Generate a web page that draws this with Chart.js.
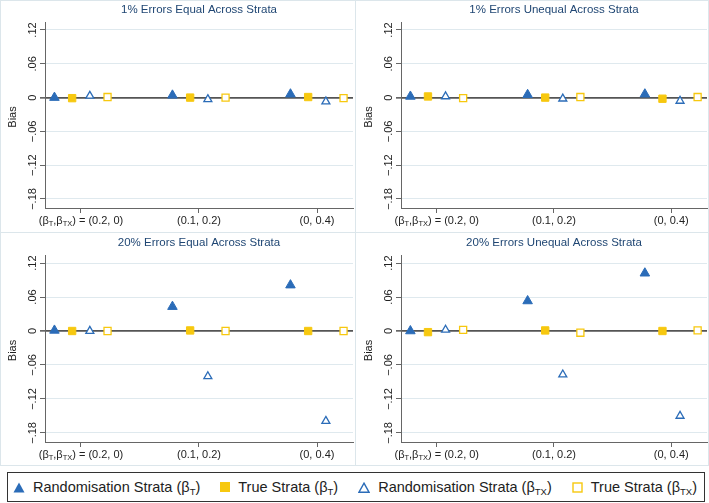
<!DOCTYPE html>
<html>
<head>
<meta charset="utf-8">
<script src="https://cdn.jsdelivr.net/npm/chart.js@4.4.1/dist/chart.umd.min.js"></script>
<style>
  body { margin: 0; background: #fff; font-family: "Liberation Sans", Arial, sans-serif; }
  #wrap { position: relative; width: 709px; height: 503px; overflow: hidden; background: #fff; }
  .frame { position: absolute; border: 1px solid #dce6eb; box-sizing: border-box; }
  canvas { position: absolute; }
  #legend {
    position: absolute; left: 7px; top: 472px; width: 698px; height: 30px;
    border: 1px solid #333; box-sizing: border-box;
    display: flex; align-items: center; padding-left: 5px;
    font-size: 14.5px; color: #222; white-space: nowrap;
  }
  #legend .item { display: flex; align-items: center; margin-right: 20px; }
  #legend svg { margin-right: 8px; }
  #legend sub { font-size: 9.5px; vertical-align: -3px; line-height: 0; }
</style>
</head>
<body>
<div id="wrap">
  <div class="frame" style="left:0;top:0;width:356px;height:233px"></div>
  <div class="frame" style="left:355px;top:0;width:354px;height:233px"></div>
  <div class="frame" style="left:0;top:232px;width:356px;height:234px"></div>
  <div class="frame" style="left:355px;top:232px;width:354px;height:234px"></div>
  <canvas id="c0" width="355" height="232" style="left:0;top:0"></canvas>
  <canvas id="c1" width="353" height="232" style="left:356px;top:0"></canvas>
  <canvas id="c2" width="355" height="233" style="left:0;top:233px"></canvas>
  <canvas id="c3" width="353" height="233" style="left:356px;top:233px"></canvas>
  <div id="legend"></div>
</div>
<script>
// "_XY" marks a subscript
const categories = ['(β_T,β_TX) = (0.2, 0)', '(0.1, 0.2)', '(0, 0.4)'];
const panelTitles = [
  '1% Errors Equal Across Strata',
  '1% Errors Unequal Across Strata',
  '20% Errors Equal Across Strata',
  '20% Errors Unequal Across Strata'
];
const yTicks = [0.12, 0.06, 0, -0.06, -0.12, -0.18];
const seriesNames = [
  'Randomisation Strata (β_T)',
  'True Strata (β_T)',
  'Randomisation Strata (β_TX)',
  'True Strata (β_TX)'
];

// bias, one row per panel, one value per category
const randT = [
  [0.000, 0.004, 0.006],
  [0.002, 0.005, 0.006],
  [0.001, 0.043, 0.081],
  [0.000, 0.053, 0.102]
];
const trueT = [
  [-0.001, 0.000, 0.001],
  [0.002, 0.000, -0.002],
  [0.000, 0.001, 0.000],
  [-0.002, 0.001, 0.000]
];
const randTX = [
  [0.003, -0.003, -0.007],
  [0.002, -0.002, -0.006],
  [0.000, -0.080, -0.159],
  [0.002, -0.077, -0.150]
];
const trueTX = [
  [0.001, 0.000, -0.001],
  [-0.001, 0.001, 0.001],
  [0.000, 0.000, 0.000],
  [0.002, -0.003, 0.001]
];

const BLUE = '#2b6cb8';
const YELLOW = '#f7c80f';
const FONT = '"Liberation Sans", Arial, sans-serif';

const styles = [
  { data: randT, pointStyle: 'triangle', bg: BLUE, border: BLUE, r: 5.5, bw: 1 },
  { data: trueT, pointStyle: 'rect', bg: YELLOW, border: YELLOW, r: 5.2, bw: 1 },
  { data: randTX, pointStyle: 'triangle', bg: '#fff', border: BLUE, r: 4.6, bw: 1.3 },
  { data: trueTX, pointStyle: 'rect', bg: '#fff', border: YELLOW, r: 5, bw: 1.3 }
];
const dodge = [-0.225, -0.075, 0.075, 0.225];

function parts(s) {
  return s.split(/_([A-Z]+)/).map((t, i) => ({ t, sub: i % 2 === 1 }));
}

function drawRich(ctx, s, cx, cy, size) {
  const ps = parts(s);
  let w = 0;
  ps.forEach(p => {
    ctx.font = (p.sub ? size * 0.68 : size) + 'px ' + FONT;
    p.w = ctx.measureText(p.t).width;
    w += p.w;
  });
  let x = cx - w / 2;
  ctx.textAlign = 'left';
  ps.forEach(p => {
    ctx.font = (p.sub ? size * 0.68 : size) + 'px ' + FONT;
    ctx.fillText(p.t, x, cy + (p.sub ? 3 : 0));
    x += p.w;
  });
}

function fmt(v) {
  if (v === 0) return '0';
  return (v < 0 ? '\u2212' : '') + Math.abs(v).toFixed(2).replace(/^0/, '');
}

const labelPlugin = {
  id: 'labels',
  afterDraw(chart, args, opts) {
    const { ctx, chartArea: a, scales: { x, y } } = chart;
    ctx.save();
    ctx.textBaseline = 'middle';
    ctx.textAlign = 'center';
    ctx.fillStyle = '#1f4673';
    ctx.font = '11.5px ' + FONT;
    ctx.fillText(opts.title, (a.left + a.right) / 2, 10);

    ctx.font = '11px ' + FONT;
    ctx.fillStyle = '#222';
    yTicks.forEach(v => {
      ctx.save();
      ctx.translate(a.left - 12, y.getPixelForValue(v));
      ctx.rotate(-Math.PI / 2);
      ctx.fillText(fmt(v), 0, 0);
      ctx.restore();
    });
    ctx.save();
    ctx.translate(a.left - 32, (a.top + a.bottom) / 2 + 2);
    ctx.rotate(-Math.PI / 2);
    ctx.fillText('Bias', 0, 0);
    ctx.restore();

    categories.forEach((c, i) => drawRich(ctx, c, x.getPixelForValue(i), a.bottom + 13, 11));
    ctx.restore();
  }
};

panelTitles.forEach((title, p) => {
  new Chart(document.getElementById('c' + p), {
    type: 'scatter',
    data: {
      datasets: styles.map((s, k) => ({
        label: seriesNames[k],
        data: s.data[p].map((v, i) => ({ x: i + dodge[k], y: v })),
        pointStyle: s.pointStyle,
        pointRadius: s.r,
        backgroundColor: s.bg,
        borderColor: s.border,
        borderWidth: s.bw
      }))
    },
    options: {
      responsive: false,
      animation: false,
      events: [],
      layout: { autoPadding: false, padding: { left: 40, right: 2, top: 22, bottom: 19 } },
      plugins: { legend: { display: false }, tooltip: { enabled: false }, labels: { title } },
      scales: {
        x: {
          type: 'linear', min: -0.305, max: 2.305,
          afterBuildTicks: s => { s.ticks = categories.map((c, i) => ({ value: i })); },
          ticks: { display: false },
          grid: { drawOnChartArea: false, tickLength: 5, tickColor: '#666' },
          border: { display: true, color: '#666' }
        },
        y: {
          min: -0.196, max: 0.1342,
          afterBuildTicks: s => { s.ticks = yTicks.map(v => ({ value: v })); },
          ticks: { display: false },
          grid: {
            tickLength: 5, tickColor: '#666',
            color: c => c.tick && c.tick.value === 0 ? '#555' : '#dfe9ee',
            lineWidth: c => c.tick && c.tick.value === 0 ? 1.7 : 1
          },
          border: { display: true, color: '#666' }
        }
      }
    },
    plugins: [labelPlugin]
  });
});

// legend
const legendMarks = [
  '<svg width="12" height="11"><polygon points="6,0.5 11.5,10.5 0.5,10.5" fill="' + BLUE + '"/></svg>',
  '<svg width="10" height="10"><rect x="0" y="0" width="10" height="10" fill="' + YELLOW + '"/></svg>',
  '<svg width="12" height="11"><polygon points="6,1.2 11,10.2 1,10.2" fill="#fff" stroke="' + BLUE + '" stroke-width="1.4"/></svg>',
  '<svg width="11" height="11"><rect x="1" y="1" width="9" height="9" fill="#fff" stroke="' + YELLOW + '" stroke-width="1.4"/></svg>'
];
document.getElementById('legend').innerHTML = seriesNames.map((n, k) =>
  '<span class="item">' + legendMarks[k] + '<span>' +
  parts(n).map(p => p.sub ? '<sub>' + p.t + '</sub>' : p.t).join('') + '</span></span>'
).join('');
</script>
</body>
</html>
